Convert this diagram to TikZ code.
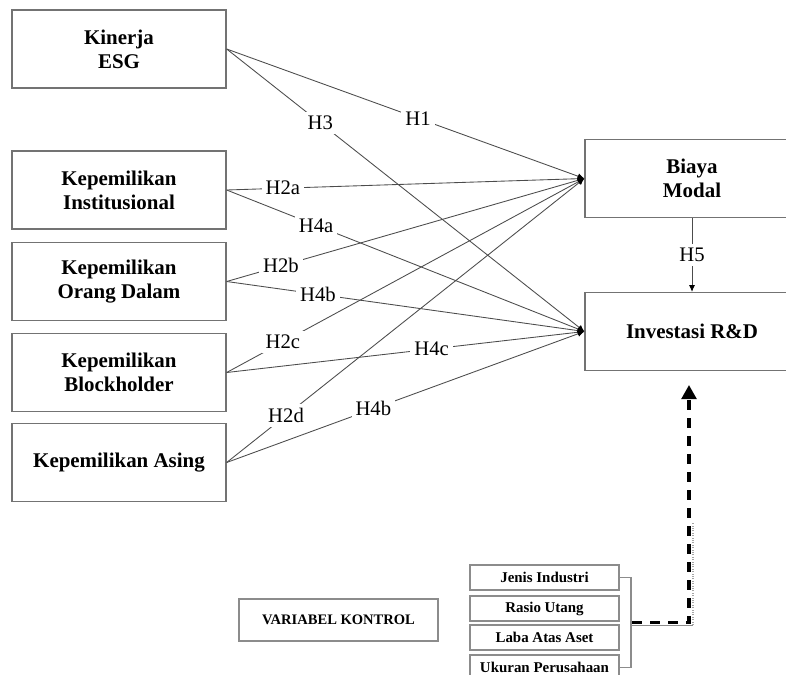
\documentclass[tikz,border=0pt]{standalone}
\usepackage{fontspec}
\setmainfont{Liberation Serif}
\usetikzlibrary{arrows.meta,positioning,calc}

\tikzset{
  varbox/.style={draw=black!55, line width=1pt, align=center, inner sep=0pt,
    font=\fontsize{15.7}{18}\selectfont\bfseries, minimum width=160.5pt, minimum height=58.5pt},
  ctrlbox/.style={draw=black!45, line width=0.8pt, align=center, inner sep=0pt,
    font=\fontsize{11.2}{13}\selectfont\bfseries, minimum width=111.75pt, minimum height=18.75pt},
  hyp/.style={draw=black!70, line width=0.65pt, -{Latex[length=5pt,width=4.5pt,black]}},
  hlabel/.style={fill=white, inner sep=3pt, font=\fontsize{15.5}{18}\selectfont}
}

\begin{document}
\begin{tikzpicture}[x=0.75pt,y=-0.75pt]
\path[use as bounding box, clip] (0,0) rectangle (786,675);

\node[varbox] (esg) at (119,49) {Kinerja\\ESG};
\node[varbox] (inst) at (119,190) {Kepemilikan\\Institusional};
\node[varbox] (dalam) at (119,281.5) {Kepemilikan\\Orang Dalam};
\node[varbox] (block) at (119,372.5) {Kepemilikan\\Blockholder};
\node[varbox] (asing) at (119,462.5) {Kepemilikan Asing};

\node[varbox] (biaya) at (692,178.5) {Biaya\\Modal};
\node[varbox] (invest) at (692,331.5) {Investasi R\&D};

\draw[hyp] (esg.east) -- node[hlabel,pos=0.535]{H1} (biaya.west);
\draw[hyp] (esg.east) -- node[hlabel,pos=0.262]{H3} (invest.west);
\draw[hyp] (inst.east) -- node[hlabel,pos=0.157]{H2a} (biaya.west);
\draw[hyp] (inst.east) -- node[hlabel,pos=0.25]{H4a} (invest.west);
\draw[hyp] (dalam.east) -- node[hlabel,pos=0.152]{H2b} (biaya.west);
\draw[hyp] (dalam.east) -- node[hlabel,pos=0.255]{H4b} (invest.west);
\draw[hyp] (block.east) -- node[hlabel,pos=0.157]{H2c} (biaya.west);
\draw[hyp] (block.east) -- node[hlabel,pos=0.573]{H4c} (invest.west);
\draw[hyp] (asing.east) -- node[hlabel,pos=0.166]{H2d} (biaya.west);
\draw[hyp] (asing.east) -- node[hlabel,pos=0.41]{H4b} (invest.west);

\draw[hyp] (biaya.south) -- node[hlabel]{H5} (invest.north);

\node[ctrlbox, minimum width=149.25pt, minimum height=31.5pt, font=\fontsize{10.9}{13}\selectfont\bfseries] (varkon) at (338.5,620) {VARIABEL KONTROL};

\node[ctrlbox] (jenis) at (544.5,577.5) {Jenis Industri};
\node[ctrlbox] (rasio) at (544.5,608.5) {Rasio Utang};
\node[ctrlbox] (laba) at (544.5,637.5) {Laba Atas Aset};
\node[ctrlbox] (ukuran) at (544.5,667.5) {Ukuran Perusahaan};

\coordinate (kurung) at (631,625);
\coordinate (ujung) at (693,523);
\draw[black!45, line width=0.8pt] (jenis.east) -| (kurung) |- (ukuran.east);
\draw[black!45, line width=0.6pt] (kurung) -| (693,625);
\draw[black!35, line width=0.8pt, densely dotted] (693,625) -- (ujung);

\coordinate (kontrol) at (632,622.5);
\coordinate (sudut) at (689,622.5);
\coordinate (panah) at (689,385);
\draw[line width=2.4pt, dash pattern=on 7.5pt off 6pt, -{Triangle[length=10.5pt,width=11pt]}] (kontrol) -- (sudut) -- (panah);
\end{tikzpicture}
\end{document}
